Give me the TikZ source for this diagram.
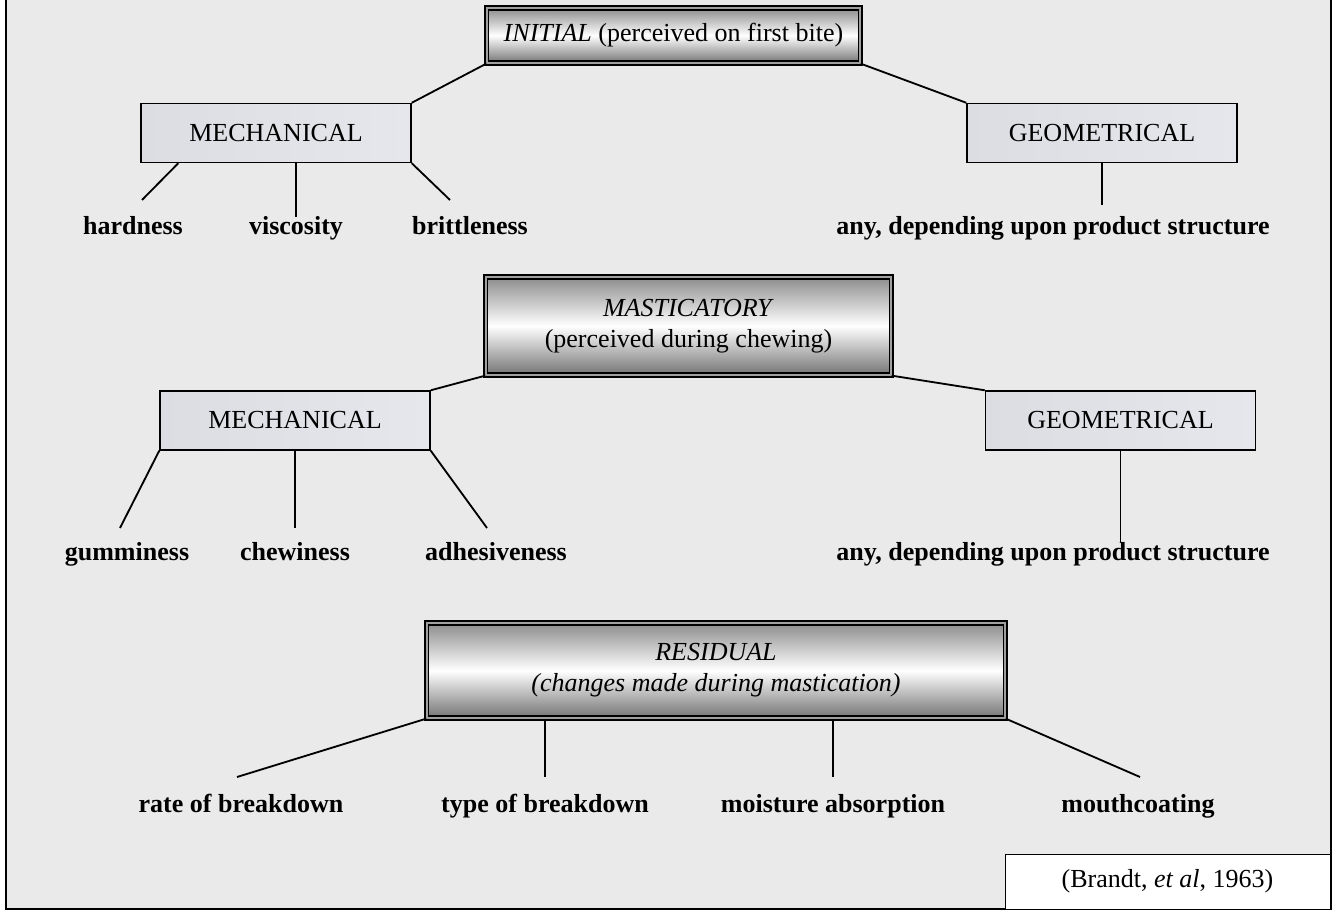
\documentclass[tikz,border=0pt]{standalone}
\usepackage{fontspec}
\setmainfont{Liberation Serif}
\usepackage{tikz}
\usetikzlibrary{calc}
\definecolor{Paper}{HTML}{EAEAEA}
\definecolor{Marble}{HTML}{DCDDE3}
\definecolor{PaleMarble}{HTML}{E6E7EC}
\definecolor{Steel}{HTML}{8C8C8C}
\definecolor{DarkSteel}{HTML}{737373}
\definecolor{Rim}{HTML}{A0A0A0}
\newcommand{\boxfont}{\fontsize{18.5}{22}\selectfont}
\tikzset{
  stagebox/.style={draw=black,line width=0.9pt,double=Rim,double distance=1.8pt,
              top color=Steel,bottom color=DarkSteel,middle color=white,
              align=center,inner sep=3pt,font=\boxfont},
  groupbox/.style={draw=black,line width=1pt,left color=Marble,right color=PaleMarble,
              align=center,minimum width=6.75cm,minimum height=1.475cm,font=\boxfont},
  leaf/.style={anchor=base,inner sep=0pt,font=\boxfont\bfseries},
  citebox/.style={draw=black,line width=0.6pt,fill=white,align=center,
              minimum width=8.125cm,minimum height=1.375cm,font=\boxfont},
  link/.style={line width=1.3pt,draw=black},
  frame/.style={line width=1.3pt,draw=black}
}

\begin{document}
\begin{tikzpicture}[x=0.025cm,y=-0.025cm]
  \useasboundingbox (0,0) rectangle (1334,911);
  \fill[Paper] (6,0) rectangle (1331,909);
  \draw[frame] (6,0) -- (6,909) -- (1331,909) -- (1331,0);

  % initial
  \node[stagebox,minimum width=9.325cm,minimum height=1.375cm] (initial) at (673.5,35.5)
    {\textit{INITIAL} (perceived on first bite)};
  \node[groupbox] (mechA) at (276,133) {MECHANICAL};
  \node[groupbox] (geomA) at (1102,133) {GEOMETRICAL};
  \node[leaf] (hard) at (133,235) {hardness};
  \node[leaf] (visc) at (296,235) {viscosity};
  \node[leaf] (britt) at (470,235) {brittleness};
  \node[leaf,anchor=base east] (anyA) at (1270,235) {any, depending upon product structure};
  \coordinate (hardtip) at (142,200);
  \coordinate (britttip) at (450,200);
  \coordinate (anyAtip) at (1102,205);
  \draw[link] (initial.south west) -- (mechA.north east);
  \draw[link] (initial.south east) -- (geomA.north west);
  \draw[link] ([xshift=0.95cm]mechA.south west) -- (hardtip);
  \draw[link] (mechA.south -| visc.north) -- (visc.north);
  \draw[link] (mechA.south east) -- (britttip);
  \draw[link] (geomA.south) -- (anyAtip);

  % masticatory
  \node[stagebox,minimum width=10.125cm,minimum height=2.45cm] (mast) at (688.5,326)
    {\textit{MASTICATORY}\\(perceived during chewing)};
  \node[groupbox] (mechB) at (295,420.5) {MECHANICAL};
  \node[groupbox] (geomB) at (1120.5,420.5) {GEOMETRICAL};
  \node[leaf] (gum) at (127,560) {gumminess};
  \node[leaf] (chew) at (295,560) {chewiness};
  \node[leaf] (adhes) at (496,560) {adhesiveness};
  \node[leaf,anchor=base east] (anyB) at (1270,560) {any, depending upon product structure};
  \coordinate (gumtip) at (120,528);
  \coordinate (chewtip) at (295,528);
  \coordinate (adhestip) at (487,528);
  \draw[link] (mast.south west) -- (mechB.north east);
  \draw[link] (mast.south east) -- (geomB.north west);
  \draw[link] (mechB.south west) -- (gumtip);
  \draw[link] (mechB.south) -- (chewtip);
  \draw[link] (mechB.south east) -- (adhestip);
  \draw[link] (geomB.south) -- (geomB.south |- anyB.north);

  % residual
  \node[stagebox,minimum width=14.45cm,minimum height=2.375cm] (resid) at (716,670.5)
    {\textit{RESIDUAL}\\\textit{(changes made during mastication)}};
  \node[leaf] (rate) at (241,812) {rate of breakdown};
  \node[leaf] (type) at (545,812) {type of breakdown};
  \node[leaf] (moist) at (833,812) {moisture absorption};
  \node[leaf] (mouth) at (1138,812) {mouthcoating};
  \coordinate (ratetip) at (237,777);
  \coordinate (typetip) at (545,777);
  \coordinate (moisttip) at (833,777);
  \coordinate (mouthtip) at (1140,777);
  \draw[link] (resid.south west) -- (ratetip);
  \draw[link] (resid.south -| typetip) -- (typetip);
  \draw[link] (resid.south -| moisttip) -- (moisttip);
  \draw[link] (resid.south east) -- (mouthtip);

  \node[citebox] (cite) at (1167.5,881.5) {(Brandt, \textit{et al}, 1963)};
\end{tikzpicture}
\end{document}
